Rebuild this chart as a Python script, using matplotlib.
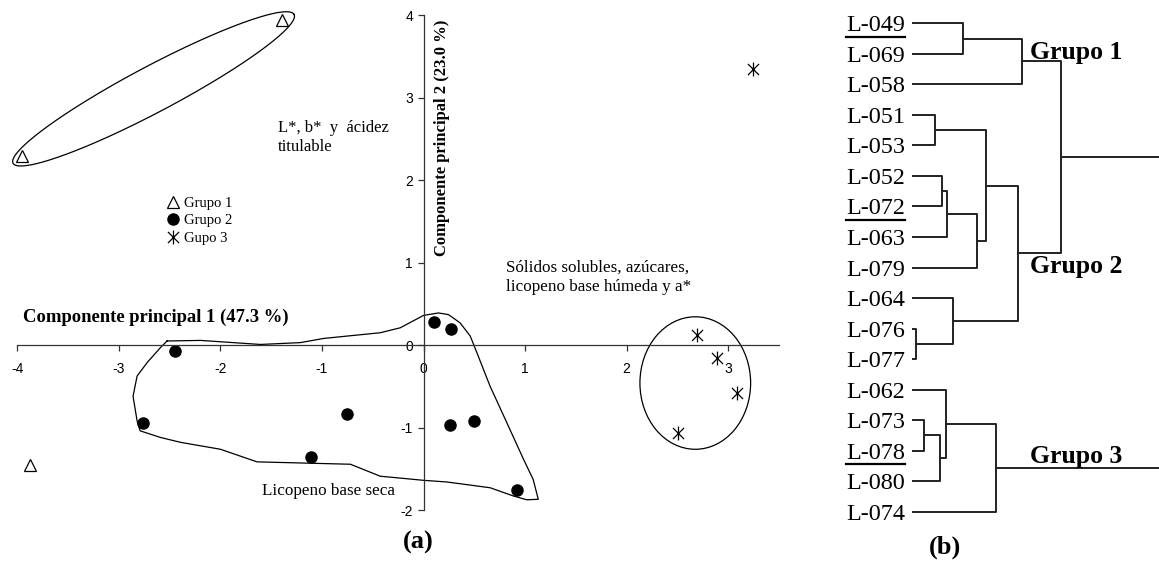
import numpy as np
import matplotlib.pyplot as plt
from matplotlib.path import Path
from matplotlib.patches import Ellipse
from matplotlib.lines import Line2D

plt.rcParams['font.family'] = ['Liberation Serif', 'DejaVu Serif']
plt.rcParams['axes.unicode_minus'] = False

# (a) componentes principales
g1_x = [-1.39, -3.95, -3.87]
g1_y = [3.94, 2.29, -1.46]
g2_x = [-2.45, -2.76, -0.75, -1.11, 0.105, 0.27, 0.26, 0.50, 0.92]
g2_y = [-0.07, -0.94, -0.83, -1.36, 0.28, 0.19, -0.97, -0.92, -1.76]
g3_x = [3.245, 2.69, 2.885, 3.09, 2.51]
g3_y = [3.35, 0.12, -0.16, -0.585, -1.06]
leyenda = ['Grupo 1', 'Grupo 2', 'Gupo 3']

# contorno dibujado a mano alrededor del grupo 2
cont_x = [-2.525, -2.196, -1.606, -1.213, -0.983, -0.426, -0.229, 0.0, 0.147, 0.246,
          0.36, 0.46, 0.525, 0.656, 0.82, 0.983, 1.08, 1.13, 1.017, 0.885, 0.656,
          0.23, 0.0, -0.426, -0.72, -1.64, -2.0, -2.39, -2.59, -2.79, -2.82, -2.86,
          -2.82, -2.72, -2.59, -2.525]
cont_y = [0.05, 0.057, 0.008, 0.03, 0.081, 0.15, 0.21, 0.36, 0.39, 0.37,
          0.27, 0.11, -0.09, -0.5, -0.94, -1.38, -1.63, -1.87, -1.876, -1.83, -1.73,
          -1.66, -1.64, -1.59, -1.445, -1.416, -1.263, -1.18, -1.12, -1.04, -0.92, -0.62,
          -0.375, -0.21, -0.03, 0.05]

# (b) dendrograma
hojas = ['L-049', 'L-069', 'L-058', 'L-051', 'L-053', 'L-052', 'L-072', 'L-063', 'L-079',
         'L-064', 'L-076', 'L-077', 'L-062', 'L-073', 'L-078', 'L-080', 'L-074']
subrayadas = ['L-049', 'L-072', 'L-078']
# (nodo a, nodo b, distancia); nodos nuevos numerados desde len(hojas)
uniones = [(0, 1, 5.1), (17, 2, 11.0),
           (3, 4, 2.33), (5, 6, 3.06), (20, 7, 3.56), (21, 8, 6.5), (19, 22, 7.4),
           (10, 11, 0.43), (9, 24, 4.1), (23, 25, 10.6), (18, 26, 14.9),
           (13, 14, 1.23), (28, 15, 2.86), (12, 29, 3.4), (30, 16, 8.43),
           (27, 31, 30.0)]
grupos = ['Grupo 1', 'Grupo 2', 'Grupo 3']
grupos_pos = [(11.83, 0.95), (11.83, 7.96), (11.83, 14.18)]

fig = plt.figure(figsize=(11.59, 5.61), dpi=100)

# ---------- (a) ----------
ax = fig.add_axes([0.0149, 0.0909, 0.6572, 0.8818])
ax.set_xlim(-4, 3.5)
ax.set_ylim(-2, 4)
for s in ['top', 'right']:
    ax.spines[s].set_visible(False)
ax.spines['left'].set_position(('data', 0))
ax.spines['bottom'].set_position(('data', 0))
for s in ['left', 'bottom']:
    ax.spines[s].set_linewidth(0.9)
    ax.spines[s].set_color('#333333')
ax.set_xticks(range(-4, 4))
ax.set_yticks(range(-2, 5))
ax.tick_params(axis='x', length=4.5, width=0.9, pad=8, color='#333333')
ax.tick_params(axis='y', length=4.5, width=0.9, pad=3, color='#333333')
for lab in ax.get_xticklabels() + ax.get_yticklabels():
    lab.set_fontfamily('Liberation Sans')
    lab.set_fontsize(10)

asterisco = Path([(0, -1), (0, 1), (-0.8, -0.8), (0.8, 0.8), (-0.8, 0.8), (0.8, -0.8)],
                 [Path.MOVETO, Path.LINETO] * 3)

ax.plot(g1_x, g1_y, ls='none', marker='^', ms=8, mfc='white', mec='black', mew=0.9,
        clip_on=False, label=leyenda[0])
ax.plot(g2_x, g2_y, ls='none', marker='o', ms=8, color='black', clip_on=False, label=leyenda[1])
ax.plot(g3_x, g3_y, ls='none', marker=asterisco, ms=10, mec='black', mew=0.9,
        clip_on=False, label=leyenda[2])

# elipse del grupo 1 (definida en pixeles para que no se deforme)
sx = 0.6572 * 1159 / 7.5
sy = 0.8818 * 561 / 6.0
t = np.linspace(0, 2 * np.pi, 300)
a, b, ang = 159, 23, np.radians(27.9)
ex = -2.658 + (a * np.cos(t) * np.cos(ang) - b * np.sin(t) * np.sin(ang)) / sx
ey = 3.108 + (a * np.cos(t) * np.sin(ang) + b * np.sin(t) * np.cos(ang)) / sy
ax.plot(ex, ey, color='black', lw=0.9, clip_on=False)

ax.add_patch(Ellipse((2.676, -0.46), 1.09, 1.607, fill=False, ec='black', lw=0.9))
ax.plot(cont_x, cont_y, color='black', lw=0.9)

ax.text(-3.94, 0.34, 'Componente principal 1 (47.3 %)', fontsize=13.4, fontweight='bold',
        ha='left', va='center')
ax.text(0.18, 2.51, 'Componente principal 2 (23.0 %)', fontsize=12, fontweight='bold',
        rotation=90, ha='center', va='center')
ax.text(-1.43, 2.52, 'L*, b*  y  ácidez\ntitulable', fontsize=12, ha='left', va='center',
        linespacing=1.2)
ax.text(0.815, 0.82, 'Sólidos solubles, azúcares,\nlicopeno base húmeda y a*', fontsize=12.3,
        ha='left', va='center', linespacing=1.25)
ax.text(-1.59, -1.77, 'Licopeno base seca', fontsize=12.3, ha='left', va='center')
ax.text(-0.05, -2.39, '(a)', fontsize=19, fontweight='bold', ha='center', va='center')

ax.legend(loc='center left', bbox_to_anchor=(-2.52, 1.51), bbox_transform=ax.transData,
          frameon=False, numpoints=1, handlelength=0.8, handletextpad=0.3, borderpad=0,
          borderaxespad=0, labelspacing=0.3, prop={'family': 'Liberation Serif', 'size': 10.5})

# ---------- (b) ----------
axd = fig.add_axes([0.7866, 0.0606, 0.2134, 0.925])
axd.set_xlim(0, 24.73)
axd.set_ylim(16.5, -0.5)
axd.axis('off')

pos = {i: (0.0, float(i)) for i in range(len(hojas))}
for k, (na, nb, h) in enumerate(uniones):
    xa, ya = pos[na]
    xb, yb = pos[nb]
    axd.plot([xa, h, h, xb], [ya, ya, yb, yb], color='#222222', lw=1.4)
    pos[len(hojas) + k] = (h, (ya + yb) / 2)

textos = {}
for i, nom in enumerate(hojas):
    textos[nom] = axd.text(-0.67, i, nom, fontsize=17.4, ha='right', va='center_baseline',
                           clip_on=False)

for nom, (gx, gy) in zip(grupos, grupos_pos):
    axd.text(gx, gy, nom, fontsize=18.5, fontweight='bold', ha='left', va='center')

fig.text(945 / 1159, 1 - 547 / 561, '(b)', fontsize=19, fontweight='bold', ha='center', va='center')

# subrayado de algunas etiquetas
fig.canvas.draw()
rend = fig.canvas.get_renderer()
for nom in subrayadas:
    bb = textos[nom].get_window_extent(rend)
    yc = axd.transData.transform((0, hojas.index(nom)))[1] - 13.4
    fig.add_artist(Line2D([bb.x0, bb.x1], [yc, yc], transform=None, color='black', lw=1.6))

fig.savefig('out.png', dpi=100)
